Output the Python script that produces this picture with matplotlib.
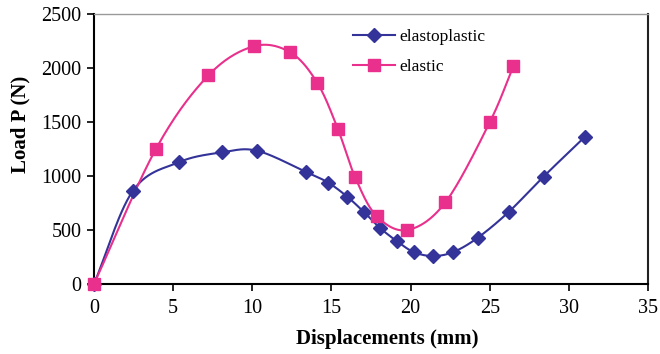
import numpy as np
import matplotlib
matplotlib.use("Agg")
import matplotlib.pyplot as plt
from matplotlib.lines import Line2D

# Data
ep_x = [0.0, 2.45, 5.35, 8.1, 10.3, 13.4, 14.8, 16.0, 17.05, 18.05, 19.15, 20.2, 21.4, 22.7, 24.25, 26.2, 28.4, 31.0]
ep_y = [0, 861, 1127, 1219, 1234, 1037, 938, 808, 667, 521, 395, 296, 259, 296, 429, 667, 994, 1361]
el_x = [0.0, 3.9, 7.23, 10.1, 12.4, 14.1, 15.4, 16.5, 17.85, 19.8, 22.2, 25.0, 26.5]
el_y = [0, 1247, 1932, 2201, 2145, 1864, 1438, 988, 630, 500, 756, 1497, 2019]
series_names = ["elastoplastic", "elastic"]
x_ticks = [0, 5, 10, 15, 20, 25, 30, 35]
y_ticks = [0, 500, 1000, 1500, 2000, 2500]

BLUE = "#333399"
PINK = "#E8308C"

def smooth(xs, ys, n=30):
    """Catmull-Rom style smoothing (like Excel's smoothed lines) for drawing."""
    xs = np.asarray(xs, float); ys = np.asarray(ys, float)
    px = np.concatenate([[2*xs[0]-xs[1]], xs, [2*xs[-1]-xs[-2]]])
    py = np.concatenate([[2*ys[0]-ys[1]], ys, [2*ys[-1]-ys[-2]]])
    ox, oy = [], []
    t = np.linspace(0, 1, n)
    for i in range(1, len(px)-2):
        p0, p1, p2, p3 = (np.array([px[j], py[j]]) for j in (i-1, i, i+1, i+2))
        c1 = p1 + (p2 - p0) / 6.0
        c2 = p2 - (p3 - p1) / 6.0
        b = ((1-t)**3)[:, None]*p1 + (3*(1-t)**2*t)[:, None]*c1 + (3*(1-t)*t**2)[:, None]*c2 + (t**3)[:, None]*p2
        ox.extend(b[:, 0]); oy.extend(b[:, 1])
    return np.array(ox), np.array(oy)

plt.rcParams['font.family'] = ['Liberation Serif', 'DejaVu Serif']

fig = plt.figure(figsize=(6.6, 3.54), dpi=100)
ax = fig.add_axes([94/660, 1-284/354, (648-94)/660, (284-14)/354])

sx, sy = smooth(ep_x, ep_y)
ax.plot(sx, sy, color=BLUE, lw=1.5, zorder=3)
ax.plot(ep_x, ep_y, ls='none', marker='D', ms=7.5, color=BLUE, mec=BLUE, zorder=4, clip_on=False)
sx, sy = smooth(el_x, el_y)
ax.plot(sx, sy, color=PINK, lw=1.5, zorder=3)
ax.plot(el_x, el_y, ls='none', marker='s', ms=9, color=PINK, mec=PINK, zorder=4, clip_on=False)

ax.set_xlim(0, 35)
ax.set_ylim(0, 2500)
ax.set_xticks(x_ticks)
ax.set_yticks(y_ticks)
ax.tick_params(direction='out', length=5, width=1.2, labelsize=14.5, colors='black')
ax.tick_params(axis='x', pad=6)
ax.tick_params(axis='y', pad=4)
for s in ['left', 'bottom']:
    ax.spines[s].set_linewidth(1.5)
    ax.spines[s].set_color('black')
ax.spines['top'].set_linewidth(1.0)
ax.spines['top'].set_color('#999999')
ax.spines['right'].set_linewidth(1.5)
ax.spines['right'].set_color('#222222')
for s in ax.spines.values():
    s.set_zorder(1)

ax.set_xlabel("Displacements (mm)", fontsize=15, fontweight='bold')
ax.xaxis.set_label_coords((387.5-94)/554, -(329-284)/270)
ax.set_ylabel("Load P (N)", fontsize=15, fontweight='bold')
ax.yaxis.set_label_coords((30-94)/554, (284-124)/270)

handles = [Line2D([], [], color=BLUE, lw=1.5, marker='D', ms=7.5),
           Line2D([], [], color=PINK, lw=1.5, marker='s', ms=9)]
leg = ax.legend(handles, series_names, loc='upper left', bbox_to_anchor=((341-94)/554, 1-(3)/270),
                frameon=False, fontsize=12.5, handlelength=2.4, handletextpad=0.25,
                labelspacing=0.78, borderpad=0.2)

fig.savefig("out.png", dpi=100)
